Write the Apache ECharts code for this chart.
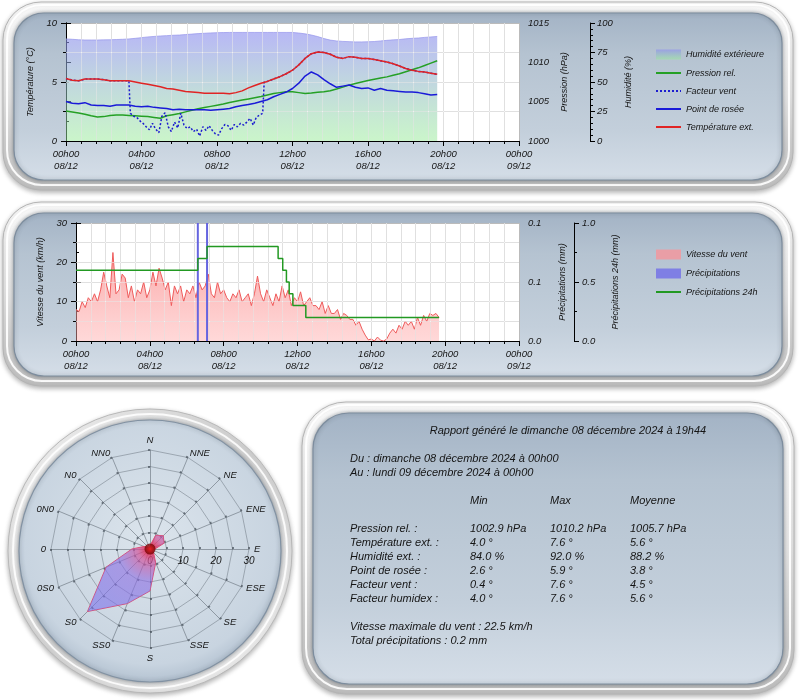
<!DOCTYPE html>
<html><head><meta charset="utf-8">
<script src="https://cdn.jsdelivr.net/npm/echarts@6/dist/echarts.min.js"></script>
<style>html,body{margin:0;padding:0;background:#fff}#c{width:800px;height:700px}</style>
</head><body><div id="c"></div>
<script>
// ================= DATA =================
const xTickLabels = ['00h00\n08/12','04h00\n08/12','08h00\n08/12','12h00\n08/12','16h00\n08/12','20h00\n08/12','00h00\n09/12'];
const sampleStepHours = 1/3; // 20 minutes
const temperature = [5.3,5.15,5.1,5.25,5.25,5.25, 5.2,5.1,5.1,5.1,5.1,5.0, 4.9,4.8,4.7,4.6,4.45,4.4, 4.3,4.2,4.15,4.1,4.05,4.05, 4.05,4.05,4.0,4.1,4.25,4.5, 4.7,4.9,5.05,5.25,5.45,5.7, 6.0,6.45,7.0,7.4,7.55,7.5, 7.35,7.1,7.0,7.15,7.1,7.0, 7.0,6.9,6.8,6.7,6.55,6.35, 6.15,6.0,5.9,5.85,5.75,5.65];
const dewPoint = [3.35,3.2,3.15,3.25,3.05,3.0, 3.0,2.95,3.05,3.05,3.05,2.95, 2.9,2.95,2.85,2.8,2.75,2.65, 2.7,2.65,2.65,2.65,2.65,2.6, 2.65,2.7,2.75,2.9,3.0,3.1, 3.2,3.35,3.5,3.75,3.95,4.15, 4.45,4.9,5.5,5.85,5.6,5.2, 4.85,4.55,4.65,4.75,4.55,4.45, 4.5,4.3,4.45,4.3,4.25,4.2, 4.15,4.15,4.1,4.0,3.9,3.95];
const pressure = [1003.8,1003.7,1003.55,1003.4,1003.2,1003.05, 1003.1,1003.25,1003.3,1003.3,1003.25,1003.2, 1003.15,1003.1,1003.0,1002.9,1003.2,1003.35, 1003.5,1003.7,1003.9,1004.1,1004.25,1004.4, 1004.55,1004.7,1004.9,1005.05,1005.2,1005.35, 1005.5,1005.65,1005.85,1006.05,1006.15,1006.25, 1006.25,1006.15,1006.05,1006.1,1006.2,1006.25, 1006.4,1006.6,1006.85,1007.1,1007.3,1007.5, 1007.7,1007.85,1008.0,1008.15,1008.35,1008.55, 1008.8,1009.05,1009.3,1009.6,1009.9,1010.2];
const humidity = [86.5,86.2,85.8,85.6,85.6,85.6, 85.7,85.8,86.0,86.2,86.5,87.0, 87.6,88.2,88.6,89.0,89.3,89.6, 89.8,90.2,90.6,91.0,91.3,91.6, 91.8,91.9,92.0,92.0,92.0,92.0, 92.0,92.0,92.0,92.0,92.0,92.0, 92.0,91.5,90.8,89.8,88.5,86.8, 85.5,84.8,84.4,84.2,84.0,84.0, 84.1,84.3,84.8,85.3,85.7,86.0, 86.6,87.0,87.3,87.8,88.2,88.6];
// wind chill differs from temperature only between 3.4h and 10.5h
const windChillGapHours = [3.4,3.41,3.58,3.75,3.92,4.08,4.25,4.42,4.58,4.75,4.92,5.08,5.25,5.42,5.58,5.75,5.92,6.08,6.25,6.42,6.58,6.75,6.92,7.08,7.25,7.42,7.58,7.75,7.92,8.08,8.25,8.42,8.58,8.75,8.92,9.08,9.25,9.42,9.58,9.75,9.92,10.08,10.25,10.42,10.5];
const windChillGapValues = [5.05,2.35,2.1,2.0,1.7,1.5,1.2,0.95,1.5,1.0,0.7,2.1,2.4,1.2,0.8,1.6,1.1,2.35,1.35,1.05,1.2,0.8,1.0,0.42,1.2,0.9,1.3,0.9,0.6,0.5,1.05,1.4,1.3,0.9,1.4,1.2,1.5,1.35,1.6,1.92,1.35,2.0,2.2,2.35,5.0];
const windStepHours = 1/6; // 10 minutes
const windSpeed = [8,7.5,10,8.5,11,10, 12,10,13,17.5,14,11, 22.5,12,13,17,16,11, 14,10,13,12,15,11, 13,17.5,14,18.5,16,13, 15,9,14,12,14,10, 13,12,14,11,15,13, 14,17,12,11,15,12, 13,11,10,12,11,13, 10,11,12,9,12,16.5, 12,10,13,11,9,12, 10,14,11,13,9,11, 10,12.5,9,10,11,9, 9,8,10,7,9,7, 7,8,5.5,7,6.5,5.5, 5.5,4,5,3,1.5,0.3, 0.5,0,1,0.2,0,0.5, 2,3,2,4,3,5, 4,5,3,6,4,6.5, 5,7,6.5,7,6];
const precipHours = [6.6, 7.1];
const precipValues = [0.1, 0.1];
const precip24Hours = [0, 6.6, 7.1, 10.95, 11.2, 11.4, 11.55, 11.75, 12.45, 19.67];
const precip24Values = [0.6, 0.7, 0.8, 0.7, 0.6, 0.5, 0.4, 0.3, 0.2, 0.2];
const precipTickLabels = ['0.0','0.1','0.1'];
const precip24TickLabels = ['0.0','0.5','1.0'];
const roseDirections = ['N','NNE','NE','ENE','E','ESE','SE','SSE','S','SS0','S0','0S0','0','0N0','N0','NN0'];
const roseValues = [1,4.5,5.7,4.6,1.5,1,1.5,4.5,12.7,17.9,26.8,14.4,5.5,2,0.8,0.5];
const roseTickLabels = ['0','10','20','30'];
const reportTitle = 'Rapport généré le dimanche 08 décembre 2024 à 19h44';
const reportPeriod = ['Du : dimanche 08 décembre 2024 à 00h00','Au : lundi 09 décembre 2024 à 00h00'];
const reportHeaders = ['Min','Max','Moyenne'];
const reportRowLabels = ['Pression rel. :','Température ext. :','Humidité ext. :','Point de rosée :','Facteur vent :','Facteur humidex :'];
const reportMin = ['1002.9 hPa','4.0 °','84.0 %','2.6 °','0.4 °','4.0 °'];
const reportMax = ['1010.2 hPa','7.6 °','92.0 %','5.9 °','7.6 °','7.6 °'];
const reportMean = ['1005.7 hPa','5.6 °','88.2 %','3.8 °','4.5 °','5.6 °'];
const reportFooter = ['Vitesse maximale du vent : 22.5 km/h','Total précipitations : 0.2 mm'];

// ================= BUILD =================
const FONT = '"Liberation Sans", Arial, sans-serif';
const TXT = '#151515';
const G = echarts.graphic;
const pairs = (arr, step) => arr.map((v, i) => [+(i * step).toFixed(4), v]);
const tempPairs = pairs(temperature, sampleStepHours);
const windChill = [
  ...tempPairs.filter(p => p[0] < 3.4),
  ...windChillGapHours.map((h, i) => [h, windChillGapValues[i]]),
  ...tempPairs.filter(p => p[0] > 10.55)
];

const lbl = {color: TXT, fontSize: 9.5, fontStyle: 'italic', fontFamily: FONT};
const nameStyle = {color: TXT, fontSize: 9, fontStyle: 'italic', fontFamily: FONT};
const GRIDC = '#bbbbbb';
const OVER = 'rgba(255,255,255,0.55)';

function xAx(gi) {
  return {gridIndex: gi, type: 'value', min: 0, max: 24, interval: 4,
    axisLine: {onZero: false, lineStyle: {color: '#000', width: 1}},
    axisTick: {show: true, length: 5, lineStyle: {color: '#000'}},
    minorTick: {show: true, splitNumber: 5, length: 3, lineStyle: {color: '#000'}},
    splitLine: {show: true, lineStyle: {color: GRIDC}},
    minorSplitLine: {show: true, lineStyle: {color: GRIDC}},
    axisLabel: Object.assign({}, lbl, {margin: 7, lineHeight: 12, showMinLabel: true, showMaxLabel: true,
      formatter: v => xTickLabels[Math.round(v / 4)]})};
}
function xOver(gi) {
  return {gridIndex: gi, type: 'value', min: 0, max: 24, interval: 4, z: 1.5,
    axisLine: {show: false}, axisTick: {show: false}, axisLabel: {show: false},
    minorTick: {show: false, splitNumber: 5},
    splitLine: {show: true, showMinLine: false, showMaxLine: false, lineStyle: {color: OVER}},
    minorSplitLine: {show: true, lineStyle: {color: OVER}}};
}
function yOver(gi, max, interval) {
  return {gridIndex: gi, type: 'value', min: 0, max: max, interval: interval, z: 1.5, position: 'left',
    axisLine: {show: false}, axisTick: {show: false}, axisLabel: {show: false},
    minorTick: {show: false, splitNumber: 2},
    splitLine: {show: true, showMinLine: false, showMaxLine: false, lineStyle: {color: OVER}},
    minorSplitLine: {show: true, lineStyle: {color: OVER}}};
}
function yAx(o) {
  return Object.assign({type: 'value',
    axisLine: {show: true, lineStyle: {color: '#000'}},
    axisTick: {show: true, length: 5, lineStyle: {color: '#000'}},
    minorTick: {show: true, splitNumber: 2, length: 3, lineStyle: {color: '#000'}},
    splitLine: {show: false}, minorSplitLine: {show: false},
    nameLocation: 'middle', nameRotate: 90, nameTextStyle: nameStyle,
    axisLabel: Object.assign({}, lbl, {margin: 9, formatter: v => String(v)})}, o);
}

// panels
function panel(x, y, w, h, r) {
  return [
    {type: 'rect', z: -30, silent: true, shape: {x: x, y: y, width: w, height: h, r: r},
      style: {fill: new G.LinearGradient(0, 0, 0, 1, [{offset: 0, color: '#fbfbfb'}, {offset: 0.5, color: '#e4e4e4'}, {offset: 1, color: '#bdbdbd'}]),
        stroke: '#b4b4b4', lineWidth: 1, shadowBlur: 5, shadowOffsetY: 2, shadowColor: 'rgba(0,0,0,0.3)'}},
    {type: 'rect', z: -29, silent: true, shape: {x: x + 4, y: y + 3, width: w - 8, height: h - 8, r: r - 3},
      style: {fill: 'none', stroke: 'rgba(255,255,255,0.9)', lineWidth: 2}},
    {type: 'rect', z: -28, silent: true, shape: {x: x + 11, y: y + 11, width: w - 22, height: h - 21, r: r - 8},
      style: {fill: new G.LinearGradient(0, 0, 0, 1, [{offset: 0, color: '#a3b3c5'}, {offset: 0.25, color: '#b5c3d1'}, {offset: 0.7, color: '#c3cfdb'}, {offset: 1, color: '#d5dee8'}]),
        stroke: '#7d8d9e', lineWidth: 1.2, shadowBlur: 4, shadowColor: 'rgba(40,50,60,0.45)'}}
  ];
}
const graphics = [].concat(
  panel(3, 2, 790, 188, 38),
  panel(3, 202, 790, 184, 38),
  panel(302, 402, 492, 292, 44),
  [
    {type: 'circle', z: -30, silent: true, shape: {cx: 150, cy: 551, r: 142},
      style: {fill: new G.LinearGradient(0, 0, 1, 1, [{offset: 0, color: '#fdfdfd'}, {offset: 0.5, color: '#d2d2d2'}, {offset: 1, color: '#f2f2f2'}]),
        stroke: '#b8b8b8', lineWidth: 1, shadowBlur: 5, shadowOffsetY: 2, shadowColor: 'rgba(0,0,0,0.3)'}},
    {type: 'circle', z: -29, silent: true, shape: {cx: 150, cy: 551, r: 137},
      style: {fill: 'none', stroke: 'rgba(255,255,255,0.85)', lineWidth: 2}},
    {type: 'circle', z: -28, silent: true, shape: {cx: 150, cy: 551, r: 131},
      style: {fill: new G.RadialGradient(0.5, 0.45, 0.6, [{offset: 0, color: '#dbe4ec'}, {offset: 0.8, color: '#c8d4e0'}, {offset: 1, color: '#a5b5c6'}]),
        stroke: '#8292a3', lineWidth: 1.2, shadowBlur: 4, shadowColor: 'rgba(40,50,60,0.45)'}}
  ]
);
const tfont = 'italic 11px ' + FONT;
function txt(x, y, s, align) {
  return {type: 'text', z: 50, silent: true, x: x, y: y,
    style: {text: s, font: tfont, fill: TXT, textAlign: align || 'left', textVerticalAlign: 'middle'}};
}
graphics.push(txt(568, 431, reportTitle, 'center'));
reportPeriod.forEach((s, i) => graphics.push(txt(350, 459 + i * 14, s)));
const colX = [470, 550, 630];
reportHeaders.forEach((s, i) => graphics.push(txt(colX[i], 501, s)));
reportRowLabels.forEach((s, i) => {
  const y = 529 + i * 14;
  graphics.push(txt(350, y, s));
  graphics.push(txt(colX[0], y, reportMin[i]));
  graphics.push(txt(colX[1], y, reportMax[i]));
  graphics.push(txt(colX[2], y, reportMean[i]));
});
reportFooter.forEach((s, i) => graphics.push(txt(350, 627 + i * 14, s)));

const humGrad = new G.LinearGradient(0, 0, 0, 1, [{offset: 0, color: 'rgba(140,140,240,0.62)'}, {offset: 1, color: 'rgba(150,235,150,0.5)'}]);
const roseOrder = [0, 15, 14, 13, 12, 11, 10, 9, 8, 7, 6, 5, 4, 3, 2, 1];
const legendText = {color: TXT, fontSize: 9, fontStyle: 'italic', fontFamily: FONT};

const option = {
  animation: false,
  textStyle: {fontFamily: FONT},
  graphic: {elements: graphics},
  grid: [
    {left: 66, top: 23, width: 453, height: 118, show: true, backgroundColor: '#fff', borderWidth: 0, outerBoundsMode: 'none'},
    {left: 76, top: 223, width: 443, height: 118, show: true, backgroundColor: '#fff', borderWidth: 0, outerBoundsMode: 'none'}
  ],
  legend: [
    {orient: 'vertical', left: 650, top: 44.5, itemGap: 9, itemWidth: 25, itemHeight: 10, textStyle: legendText,
      itemStyle: {opacity: 0},
      data: [{name: 'Humidité extérieure', icon: 'rect', itemStyle: {color: humGrad, opacity: 1}}, 'Pression rel.', 'Facteur vent', 'Point de rosée', 'Température ext.']},
    {orient: 'vertical', left: 650, top: 244.5, itemGap: 9, itemWidth: 25, itemHeight: 10, textStyle: legendText,
      itemStyle: {opacity: 0},
      data: [{name: 'Vitesse du vent', icon: 'rect', itemStyle: {color: '#e99ea6', opacity: 1}}, {name: 'Précipitations', icon: 'rect', itemStyle: {color: '#7f7fe4', opacity: 1, borderWidth: 0}}, 'Précipitations 24h']}
  ],
  xAxis: [xAx(0), xAx(1), xOver(0), xOver(1)],
  yAxis: [
    yAx({gridIndex: 0, min: 0, max: 10, interval: 5, position: 'left', name: 'Température (°C)', nameGap: 31,
      splitLine: {show: true, lineStyle: {color: GRIDC}}, minorSplitLine: {show: true, lineStyle: {color: GRIDC}}}),
    yAx({gridIndex: 0, min: 1000, max: 1015, interval: 5, position: 'right', name: 'Pression (hPa)', nameGap: 39}),
    yAx({gridIndex: 0, min: 0, max: 100, interval: 25, position: 'right', offset: 71, name: 'Humidité (%)', nameGap: 32,
      minorTick: {show: true, splitNumber: 5, length: 3, lineStyle: {color: '#000'}}, axisLabel: Object.assign({}, lbl, {margin: 7})}),
    yAx({gridIndex: 1, min: 0, max: 30, interval: 10, position: 'left', name: 'Vitesse du vent (km/h)', nameGap: 31,
      splitLine: {show: true, lineStyle: {color: GRIDC}}, minorSplitLine: {show: true, lineStyle: {color: GRIDC}}}),
    yAx({gridIndex: 1, min: 0, max: 0.1, interval: 0.05, position: 'right', name: 'Précipitations (mm)', nameGap: 39,
      axisLabel: Object.assign({}, lbl, {margin: 9, formatter: v => precipTickLabels[Math.round(v / 0.05)]})}),
    yAx({gridIndex: 1, min: 0, max: 1, interval: 0.5, position: 'right', offset: 55, name: 'Précipitations 24h (mm)', nameGap: 37,
      axisLabel: Object.assign({}, lbl, {margin: 8, formatter: v => precip24TickLabels[Math.round(v / 0.5)]})}),
    yOver(0, 10, 5),
    yOver(1, 30, 10)
  ],
  radar: {
    center: [150, 549], radius: 99, startAngle: 90, splitNumber: 6, shape: 'polygon',
    indicator: roseOrder.map(i => ({name: roseDirections[i], min: 0, max: 30})),
    axisName: {color: TXT, fontSize: 9.5, fontStyle: 'italic', fontFamily: FONT},
    nameGap: 5,
    splitLine: {lineStyle: {color: 'rgba(80,90,100,0.4)', width: 1}},
    splitArea: {show: false},
    axisLine: {lineStyle: {color: 'rgba(80,90,100,0.5)', width: 1}},
    axisTick: {show: true, length: 2, lineStyle: {color: 'rgba(70,80,90,0.7)', width: 2}}
  },
  polar: {center: [150, 549], radius: 99},
  angleAxis: {type: 'value', min: 0, max: 360, startAngle: 0, show: false},
  radiusAxis: {type: 'value', min: 0, max: 30, interval: 10,
    axisLine: {show: false}, axisTick: {show: false}, splitLine: {show: false},
    axisLabel: {show: true, margin: -17, color: TXT, fontSize: 10, fontStyle: 'italic', fontFamily: FONT,
      formatter: v => roseTickLabels[Math.round(v / 10)]}},
  series: [
    {name: 'Humidité extérieure', type: 'line', xAxisIndex: 0, yAxisIndex: 2, z: 1, symbol: 'none',
      data: pairs(humidity, sampleStepHours),
      lineStyle: {color: 'rgba(150,150,235,0.7)', width: 1}, itemStyle: {color: '#9f9fec'},
      areaStyle: {color: humGrad, opacity: 1}},
    {name: 'Pression rel.', type: 'line', xAxisIndex: 0, yAxisIndex: 1, symbol: 'none',
      data: pairs(pressure, sampleStepHours), lineStyle: {color: '#25a025', width: 1.5}, itemStyle: {color: '#25a025'}},
    {name: 'Facteur vent', type: 'line', xAxisIndex: 0, yAxisIndex: 0, symbol: 'none',
      data: windChill, lineStyle: {color: '#1c1cd0', width: 1.5, type: [2, 2]}, itemStyle: {color: '#1c1cd0'}},
    {name: 'Point de rosée', type: 'line', xAxisIndex: 0, yAxisIndex: 0, symbol: 'none',
      data: pairs(dewPoint, sampleStepHours), lineStyle: {color: '#1a1ad8', width: 1.5}, itemStyle: {color: '#1a1ad8'}},
    {name: 'Température ext.', type: 'line', xAxisIndex: 0, yAxisIndex: 0, symbol: 'none',
      data: tempPairs, lineStyle: {color: '#e02424', width: 1.5}, itemStyle: {color: '#e02424'}},
    {name: 'Vitesse du vent', type: 'line', xAxisIndex: 1, yAxisIndex: 3, z: 1, symbol: 'none',
      data: pairs(windSpeed, windStepHours),
      lineStyle: {color: '#ee5b5b', width: 1}, itemStyle: {color: '#e99ea6'},
      areaStyle: {color: new G.LinearGradient(0, 0, 0, 1, [{offset: 0, color: 'rgba(248,135,135,0.72)'}, {offset: 1, color: 'rgba(255,170,170,0.45)'}]), opacity: 1}},
    {name: 'Précipitations', type: 'bar', xAxisIndex: 1, yAxisIndex: 4, barWidth: 2,
      data: precipHours.map((h, i) => [h, precipValues[i]]),
      itemStyle: {color: '#6565e0', borderWidth: 0}},
    {name: 'Précipitations 24h', type: 'line', xAxisIndex: 1, yAxisIndex: 5, symbol: 'none', step: 'end',
      data: precip24Hours.map((h, i) => [h, precip24Values[i]]),
      lineStyle: {color: '#229922', width: 1.5}, itemStyle: {color: '#229922'}},
    {name: 'Rose des vents', type: 'radar', symbol: 'none',
      data: [{value: roseOrder.map(i => roseValues[i])}],
      lineStyle: {color: '#e0506e', width: 1},
      areaStyle: {color: {type: 'radial', x: 150, y: 549, r: 99, global: true, colorStops: [
        {offset: 0, color: 'rgba(235,30,50,0.95)'}, {offset: 0.12, color: 'rgba(210,80,150,0.7)'},
        {offset: 0.32, color: 'rgba(140,110,225,0.62)'}, {offset: 1, color: 'rgba(115,115,240,0.58)'}]}, opacity: 1}},
    {name: 'centre', type: 'scatter', coordinateSystem: 'polar', z: 5, symbolSize: 11, silent: true,
      data: [[0, 0]],
      itemStyle: {color: {type: 'radial', x: 0.5, y: 0.5, r: 0.5, colorStops: [{offset: 0, color: '#e82020'}, {offset: 1, color: '#6a0000'}]}}}
  ]
};
const chart = echarts.init(document.getElementById('c'), null, {renderer: 'canvas'});
chart.setOption(option);
</script>
</body></html>
